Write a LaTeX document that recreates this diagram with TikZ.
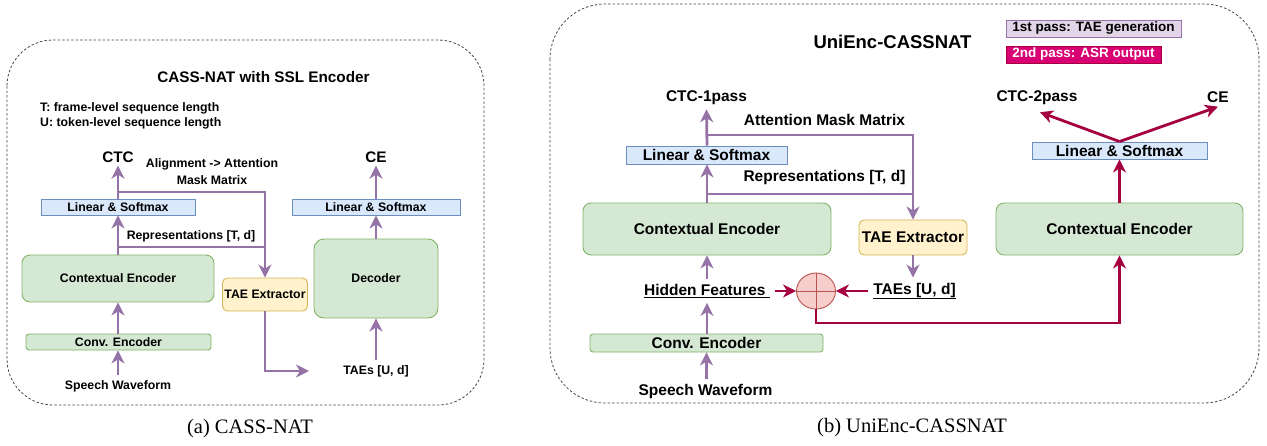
\documentclass[tikz,border=0pt]{standalone}
\usepackage{fontspec}
\setmainfont{Liberation Sans}
\newfontfamily\capfont{Liberation Serif}
\usetikzlibrary{arrows.meta,shapes.geometric}
\definecolor{pur}{HTML}{9673A6}
\definecolor{crim}{HTML}{A50040}
\definecolor{crimfill}{HTML}{D80073}
\definecolor{gfill}{HTML}{D5E8D4}
\definecolor{gdraw}{HTML}{82B366}
\definecolor{bfill}{HTML}{DAE8FC}
\definecolor{bdraw}{HTML}{6C8EBF}
\definecolor{yfill}{HTML}{FFF2CC}
\definecolor{ydraw}{HTML}{D6B656}
\definecolor{rfill}{HTML}{F8CECC}
\definecolor{rdraw}{HTML}{B85450}
\definecolor{lfill}{HTML}{E1D5E7}
\definecolor{framec}{HTML}{444444}
\begin{document}
\begin{tikzpicture}[x=1pt,y=-1pt,
  box/.style={draw, line width=0.9pt, inner sep=0pt, align=center},
  gbox/.style={box, fill=gfill, draw=gdraw},
  bbox/.style={box, fill=bfill, draw=bdraw},
  ybox/.style={box, fill=yfill, draw=ydraw},
  st/.style={font=\fontsize{12.3}{15}\selectfont\bfseries, inner sep=3pt},
  mt/.style={font=\fontsize{15.3}{18}\selectfont\bfseries, inner sep=3pt},
  bt/.style={font=\fontsize{15.5}{18}\selectfont\bfseries, inner sep=4pt},
  lt/.style={font=\fontsize{13.5}{16}\selectfont\bfseries},
  pline/.style={draw=pur, line width=2.8pt},
  parr/.style={pline, -{Stealth[length=13pt,width=13pt,inset=4pt]}},
  cline/.style={draw=crim, line width=2.8pt},
  carr/.style={cline, -{Stealth[length=13pt,width=13pt,inset=4pt]}},
  frame/.style={draw=framec, line width=0.8pt, dash pattern=on 2.5pt off 2pt},
  captxt/.style={font=\capfont\fontsize{20.5}{24}\selectfont}
]
\useasboundingbox (0,0) rectangle (1267,445);

% ---------------- frames ----------------
\draw[frame, rounded corners=46] (7,40) rectangle (484,405);
\draw[frame, rounded corners=55] (550,4) rectangle (1259,403);

% ---------------- (a) CASS-NAT ----------------
\node[mt] (titA) at (263.5,77) {CASS-NAT with SSL Encoder};
\node[st, align=left, anchor=west, font=\fontsize{12.3}{15}\selectfont\bfseries] (notes) at (37,115.5) {T: frame-level sequence length\\U: token-level sequence length};

\node[gbox, st, rounded corners=8, minimum width=192, minimum height=47] (ctxA) at (118,278.5) {Contextual Encoder};
\node[bbox, st, inner sep=0pt, minimum width=154, minimum height=16] (lsmA) at (118,207) {Linear \& Softmax};
\node[gbox, st, inner sep=0pt, rounded corners=3, minimum width=185, minimum height=16] (convA) at (118.5,342) {Conv. Encoder};
\node[ybox, st, inner sep=0pt, rounded corners=5, minimum width=85, minimum height=33] (taeA) at (265,294.5) {TAE Extractor};
\node[gbox, st, inner sep=0pt, rounded corners=10, minimum width=124, minimum height=79] (dec) at (376,278.5) {Decoder};
\node[bbox, st, inner sep=0pt, minimum width=168, minimum height=16] (lsmB) at (376,207) {Linear \& Softmax};

\node[mt] (ctcA) at (118,157) {CTC};
\node[mt] (ceA) at (376,157) {CE};
\node[st, align=center, font=\fontsize{12.3}{17}\selectfont\bfseries] (aligA) at (212,171.5) {Alignment -> Attention\\Mask Matrix};
\node[st] (repA) at (191,236) {Representations [T, d]};
\node[st, inner sep=5pt] (swA) at (118,386) {Speech Waveform};
\node[st, inner sep=5pt] (taesA) at (376,371) {TAEs [U, d]};

\coordinate (brA1) at (118,192);
\coordinate (brA2) at (118,247);
\coordinate (teA) at (309,371);
\draw[parr] (lsmA.north) -- (ctcA.south);
\draw[parr] (ctxA.north) -- (lsmA.south);
\draw[parr] (convA.north -| ctxA.south) -- (ctxA.south);
\draw[parr] (swA.north) -- (swA.north |- convA.south);
\draw[parr] (brA1) -| (taeA.north);
\draw[pline] (brA2) -- (brA2 -| taeA.north);
\draw[parr] (taeA.south) |- (teA);
\draw[parr] (taesA.north) -- (dec.south);
\draw[parr] (dec.north) -- (lsmB.south);
\draw[parr] (lsmB.north) -- (ceA.south);

\node[captxt] (capA) at (250,429) {(a) CASS-NAT};

% ---------------- (b) UniEnc-CASSNAT ----------------
\node[font=\fontsize{18.5}{22}\selectfont\bfseries] (titB) at (892.5,42) {UniEnc-CASSNAT};
\node[box, lt, fill=lfill, draw=pur, minimum width=175, minimum height=17] (leg1) at (1093.5,28.5) {1st pass: TAE generation};
\node[box, lt, fill=crimfill, draw=crim, text=white, minimum width=155, minimum height=17] (leg2) at (1083.5,54.5) {2nd pass: ASR output};

\node[gbox, bt, inner sep=0pt, rounded corners=8, minimum width=248, minimum height=52] (ctxB) at (707,229) {Contextual Encoder};
\node[bbox, bt, inner sep=0pt, minimum width=161, minimum height=18] (lsmC) at (706.5,155) {Linear \& Softmax};
\node[gbox, bt, inner sep=0pt, rounded corners=3, minimum width=233, minimum height=18] (convB) at (706.5,343) {Conv. Encoder};
\node[ybox, bt, inner sep=0pt, rounded corners=5, minimum width=108, minimum height=35] (taeB) at (913,237.5) {TAE Extractor};
\node[gbox, bt, inner sep=0pt, rounded corners=8, minimum width=247, minimum height=52] (ctxC) at (1119.5,229) {Contextual Encoder};
\node[bbox, bt, inner sep=0pt, minimum width=175, minimum height=17] (lsmD) at (1119.5,150.5) {Linear \& Softmax};
\node[ellipse, draw=rdraw, fill=rfill, line width=0.9pt, minimum width=39, minimum height=36, inner sep=0pt] (sum) at (816,291) {};
\draw[rdraw, line width=0.9pt] (sum.north) -- (sum.south) (sum.west) -- (sum.east);

\node[bt] (ctcB) at (706.5,98) {CTC-1pass};
\node[bt] (ammB) at (824.5,120) {Attention Mask Matrix};
\node[bt] (repB) at (824.5,177) {Representations [T, d]};
\node[bt, inner sep=5pt] (hid) at (707,291) {\underline{Hidden Features\ }};
\node[bt, inner sep=5pt] (taesB) at (914.5,291) {\underline{TAEs [U, d]}};
\node[bt, inner sep=5pt] (swB) at (705.5,391) {Speech Waveform};
\node[bt] (ctcC) at (1037,98) {CTC-2pass};
\node[bt] (ceB) at (1218,97) {CE};

\coordinate (brB1) at (707,135);
\coordinate (brB2) at (707,194);
\draw[parr] (lsmC.north -| brB1) -- (ctcB.south);
\draw[parr] (ctxB.north) -- (ctxB.north |- lsmC.south);
\draw[parr] (brB1) -| (taeB.north);
\draw[pline] (brB2) -- (brB2 -| taeB.north);
\draw[parr] (taeB.south) -- (taeB.south |- taesB.north);
\draw[parr] (hid.north) -- (hid.north |- ctxB.south);
\draw[parr] (convB.north -| hid.south) -- (hid.south);
\draw[parr] (swB.north -| convB.south) -- (convB.south);

\coordinate (turn1) at (816,323);
\coordinate (turn2) at (1119.5,323);
\draw[carr] (hid.east) -- (sum.west);
\draw[carr] (taesB.west) -- (sum.east);
\draw[carr] (sum.south) -- (turn1) -- (turn2) -- (ctxC.south);
\draw[carr] (ctxC.north) -- (lsmD.south);
\draw[carr] (lsmD.north) -- ([xshift=3pt,yshift=-3pt]ctcC.south);
\draw[carr] (lsmD.north) -- (ceB.south);

\node[captxt] (capB) at (912,428) {(b) UniEnc-CASSNAT};
\end{tikzpicture}
\end{document}
